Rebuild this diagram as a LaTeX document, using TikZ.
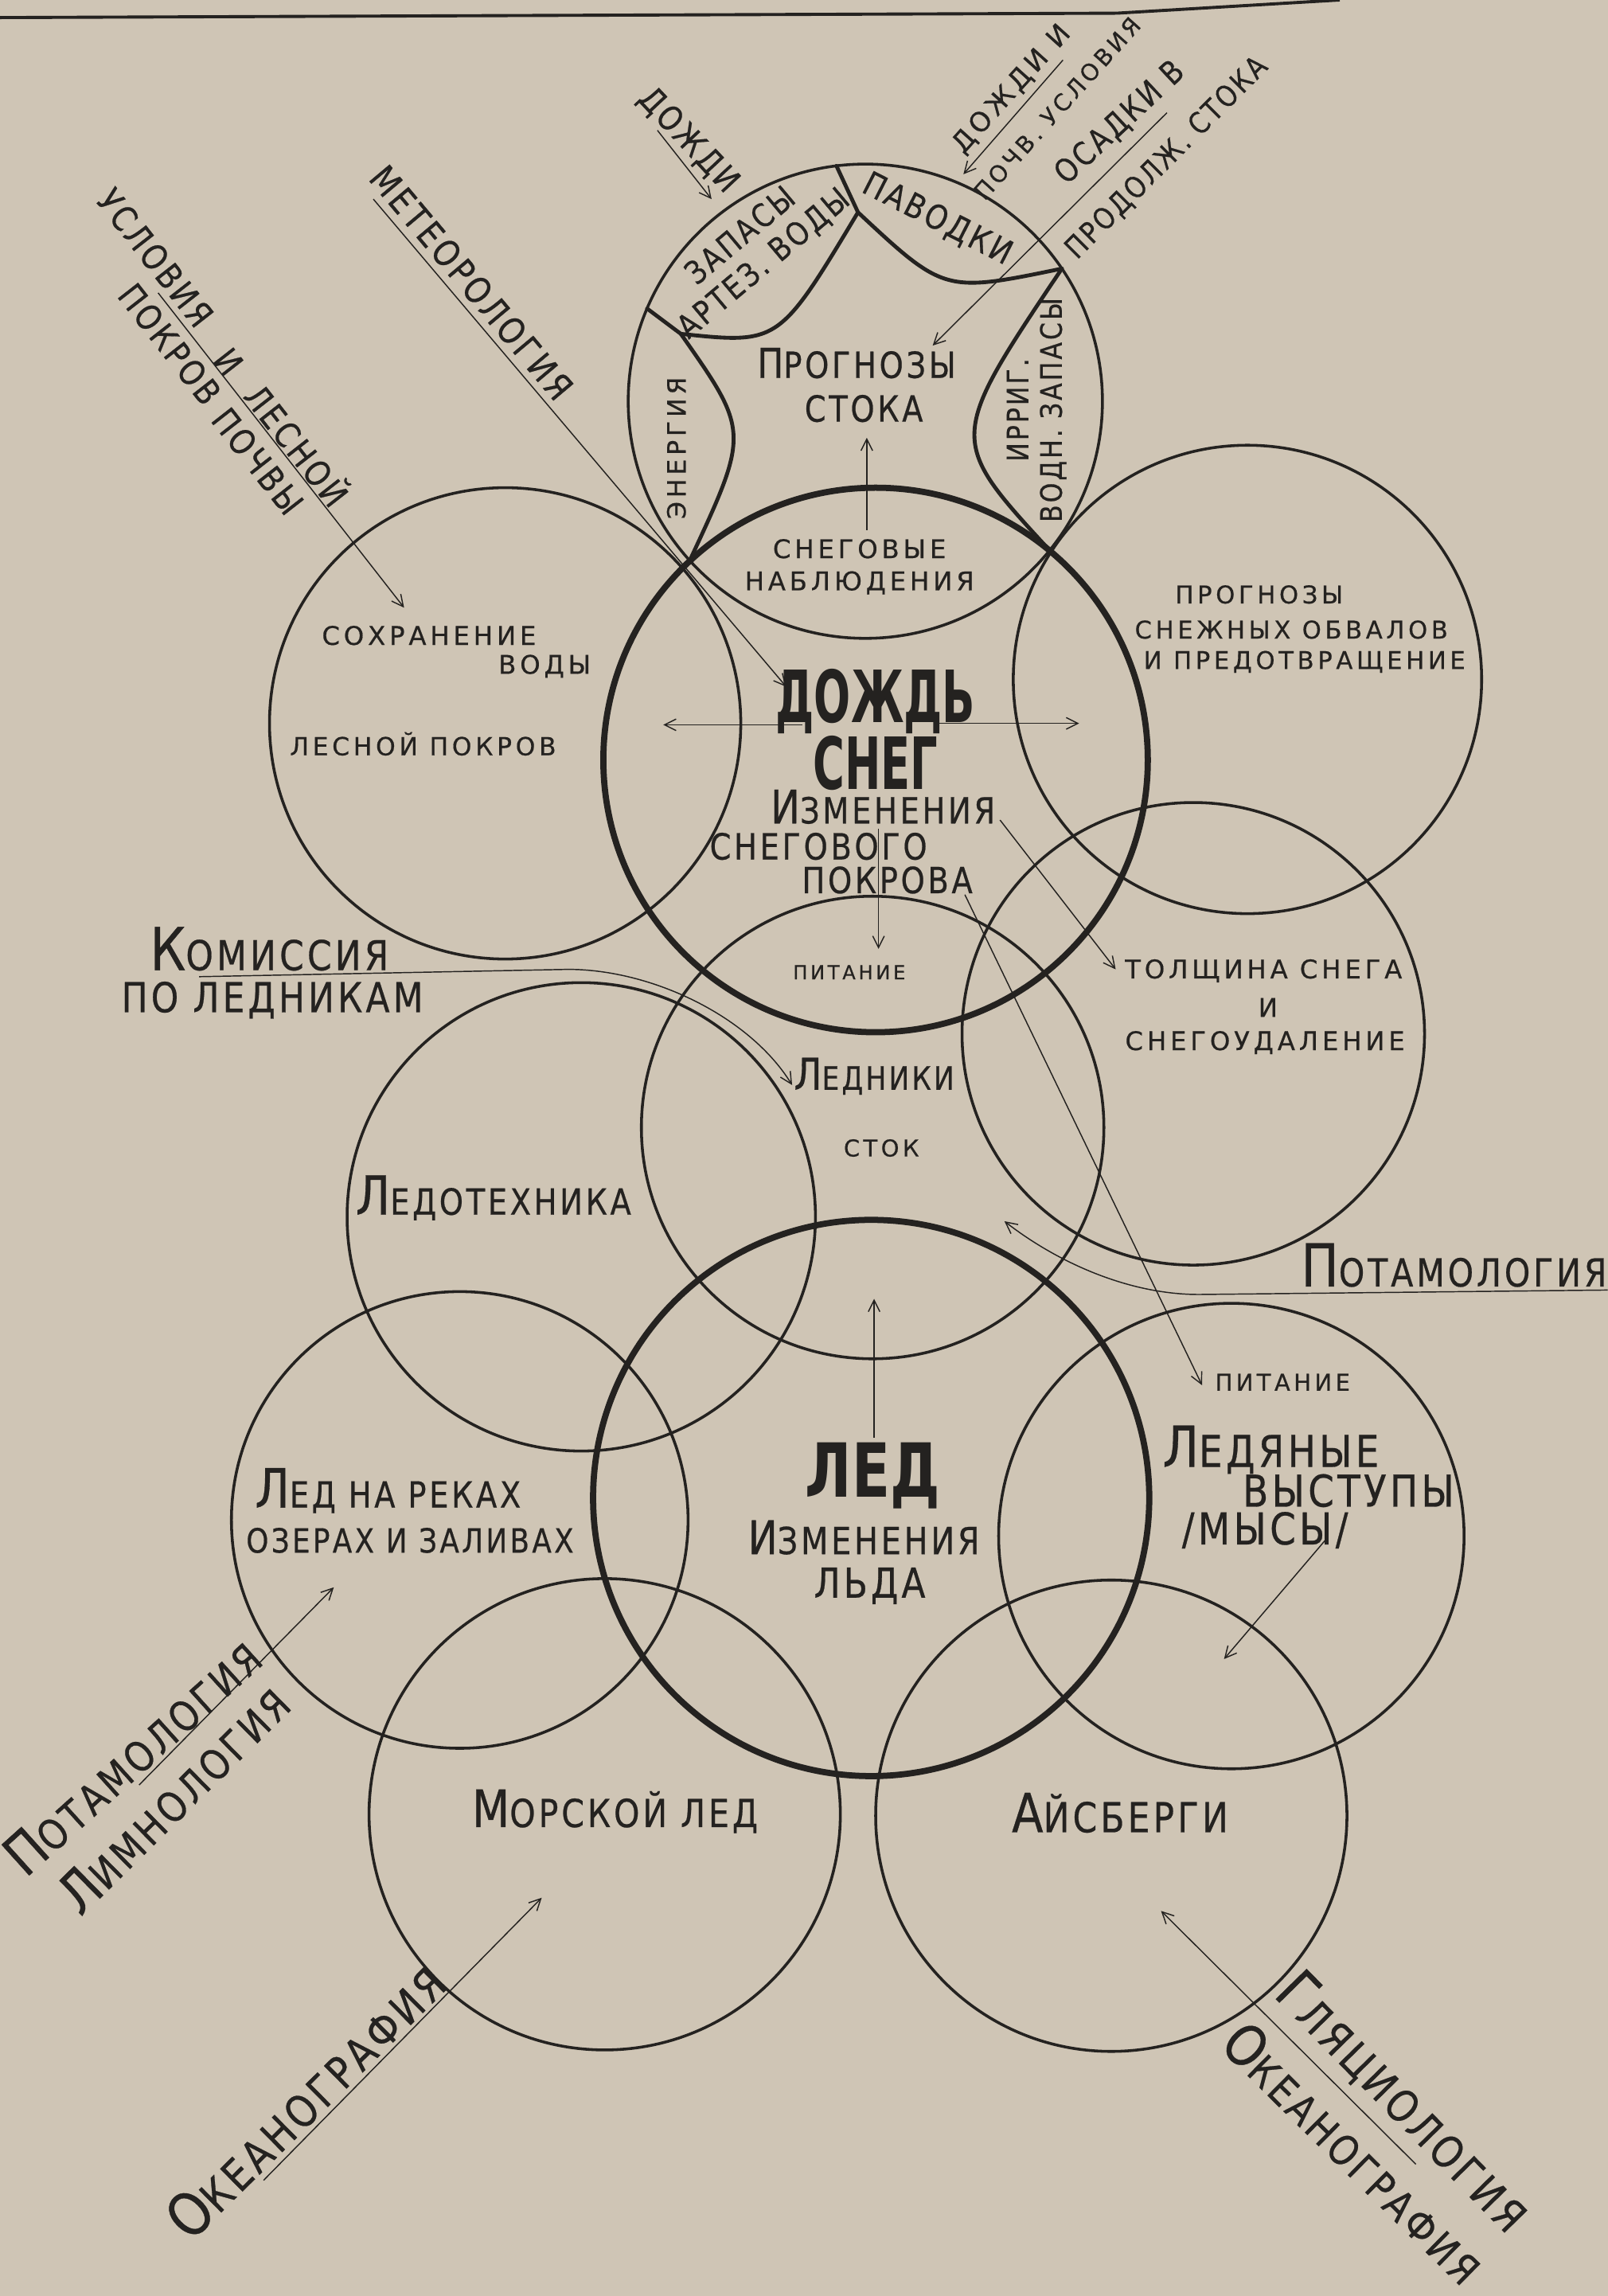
\documentclass[tikz,border=0pt]{standalone}
\usepackage{fontspec}
\setmainfont{DejaVu Sans}
\newfontfamily\lbl{DejaVu Sans}[LetterSpace=15,FakeBold=0.5]
\newfontfamily\tall{DejaVu Sans}[FakeStretch=0.85,LetterSpace=8,FakeBold=0.5]
\newfontfamily\hvy{DejaVu Sans}[FakeStretch=0.6]
\newfontfamily\hvyw{DejaVu Sans}[FakeStretch=0.75]
\usetikzlibrary{arrows.meta}
\definecolor{paper}{RGB}{207,197,181}
\definecolor{ink}{RGB}{36,34,32}
\newcommand{\fnt}[3]{#1\fontsize{#2}{#3}\selectfont}
\newcommand{\scx}[4]{{\fontsize{#1}{#1}\selectfont #3}{\fontsize{#2}{#2}\selectfont #4}}
\tikzset{
  ring/.style={circle, draw=ink, line width=1.1pt, inner sep=0pt, outer sep=0pt, minimum size=#1*0.04cm},
  bigring/.style={circle, draw=ink, line width=2.4pt, inner sep=0pt, outer sep=0pt, minimum size=#1*0.04cm},
  lens/.style={draw=ink, line width=1.5pt, line cap=round},
  arr/.style={draw=ink, line width=0.45pt, -{Straight Barb[length=4.5pt,width=4.5pt]}},
  txt/.style={text=ink, inner sep=0pt, align=center}
}
\begin{document}
\begin{tikzpicture}[x=0.02cm,y=-0.02cm]
\fill[paper] (0,0) rectangle (1098,1568);
\useasboundingbox (0,0) rectangle (1098,1568);

% ---------- top border line
\coordinate (tl0) at (0,12); \coordinate (tl1) at (763,9); \coordinate (tl2) at (915,0);
\draw[ink, line width=1.2pt] (tl0) -- (tl1) -- (tl2);

% ---------- circles
\node[ring=162] (ctop) at (591,274) {};
\node[bigring=186] (cdozhd) at (598,519) {};
\node[ring=161] (cleft) at (345,494) {};
\node[ring=160] (cright) at (852,464) {};
\node[ring=158] (cglac) at (596,770) {};
\node[ring=158] (cthick) at (815,706) {};
\node[ring=160] (ctech) at (397,831) {};
\node[bigring=190] (cled) at (595,1023) {};
\node[ring=156] (criver) at (314,1038) {};
\node[ring=159] (cshelf) at (841,1049) {};
\node[ring=161] (csea) at (413,1239) {};
\node[ring=161] (cberg) at (759,1240) {};

% ---------- lenses inside the top circle
\coordinate (p1) at (ctop.97.6);
\coordinate (p2) at (586,145);
\coordinate (p3) at (465,228);
\coordinate (pl) at (ctop.157);
\coordinate (pr) at (ctop.34);
\coordinate (xl) at (471,383);
\coordinate (xr) at (717,376);
\draw[lens] (p1) -- (p2);
\draw[lens] (p2) .. controls (532,235) .. (p3);
\draw[lens] (pl) -- (p3);
\draw[lens] (p3) .. controls (512,295) .. (xl);
\draw[lens] (p2) .. controls (645,200) .. (pr);
\draw[lens] (pr) .. controls (647,300) .. (xr);

% ---------- texts in the top circle
\node[txt, rotate=40, font={\fnt\tall{12.5}{14}}] (tzap) at (514,171) {ЗАПАСЫ\\АРТЕЗ. ВОДЫ};
\node[txt, rotate=-27, font={\fnt\tall{13}{15}}] (tpav) at (640,150) {ПАВОДКИ};
\node[txt, rotate=90, font={\fnt\lbl{9.8}{12}}] (ten) at (462,306) {ЭНЕРГИЯ};
\node[txt, rotate=90, font={\fnt\tall{11.5}{13}}] (tirr) at (708,280) {ИРРИГ.\\ВОДН. ЗАПАСЫ};
\node[txt, font={\tall}] (tprog) at (585,248) {\scx{16}{14}{П}{РОГНОЗЫ}};
\node[txt, font={\fnt\tall{14}{16}}] (tstoka) at (590,279) {СТОКА};
\node[txt, font={\fnt\lbl{10}{12.5}}] (tobs) at (587,387) {СНЕГОВЫЕ\\НАБЛЮДЕНИЯ};
\coordinate (obsA) at (592,362); \coordinate (obsB) at (592,299);
\draw[arr] (obsA) -- (obsB);

% ---------- left circle
\node[txt, font={\fnt\lbl{10}{12}}] (tsohr) at (293,434) {СОХРАНЕНИЕ};
\node[txt, font={\fnt\lbl{10}{12}}] (tvody) at (372,455) {ВОДЫ};
\node[txt, font={\fnt\lbl{9.7}{12}}] (tles) at (289,508) {ЛЕСНОЙ ПОКРОВ};

% ---------- central circle
\node[txt, font={\fnt\hvy{28}{28}\bfseries}] (tdozhd) at (598,479) {ДОЖДЬ};
\node[txt, font={\fnt\hvy{28}{28}\bfseries}] (tsneg) at (598,521) {СНЕГ};
\node[txt, font={\tall}] (tizm) at (603,551) {\scx{18}{14}{И}{ЗМЕНЕНИЯ}};
\node[txt, font={\fnt\tall{14}{16}}] (tsnegov) at (559,578) {СНЕГОВОГО};
\node[txt, font={\fnt\tall{14}{16}}] (tpokr) at (606,601) {ПОКРОВА};
\node[txt, font={\fnt\lbl{7.5}{9}}] (tpit1) at (580,664) {ПИТАНИЕ};
\coordinate (lA) at (548,495); \coordinate (lB) at (453,495);
\coordinate (rA) at (641,494); \coordinate (rB) at (737,494);
\draw[arr] (lA) -- (lB);
\draw[arr] (rA) -- (rB);
\coordinate (fA) at (600,566); \coordinate (fB) at (600,648);
\draw[arr] (fA) -- (fB);

% ---------- right circle
\node[txt, font={\fnt\lbl{9.5}{12}}] (tpr1) at (860,406) {ПРОГНОЗЫ};
\node[txt, font={\fnt\lbl{9.5}{12}}] (tpr2) at (882,430) {СНЕЖНЫХ ОБВАЛОВ};
\node[txt, font={\fnt\lbl{9.5}{12}}] (tpr3) at (891,452) {И ПРЕДОТВРАЩЕНИЕ};

% ---------- snow depth circle
\node[txt, font={\fnt\lbl{10}{12}}] (ttol1) at (863,663) {ТОЛЩИНА СНЕГА};
\node[txt, font={\fnt\lbl{10}{12}}] (ttol2) at (866,688) {И};
\node[txt, font={\fnt\lbl{10}{12}}] (ttol3) at (864,712) {СНЕГОУДАЛЕНИЕ};
\coordinate (tA) at (683,560); \coordinate (tB) at (762,662);
\draw[arr] (tA) -- (tB);

% ---------- glaciers circle
\node[txt, font={\tall}] (tledn) at (597,735) {\scx{17}{12.5}{Л}{ЕДНИКИ}};
\node[txt, font={\fnt\lbl{9}{11}}] (tstok) at (602,784) {СТОК};
\node[txt, font={\tall}] (tkom) at (184,648) {\scx{23}{16}{К}{ОМИССИЯ}};
\node[txt, font={\fnt\tall{16}{18}}] (tpoled) at (186,683) {ПО ЛЕДНИКАМ};
\coordinate (kA) at (136,667); \coordinate (kB) at (388,662); \coordinate (kC) at (541,741);
\draw[arr] (kA) -- (kB) .. controls (445,662) and (512,694) .. (kC);

% ---------- ice technics
\node[txt, font={\tall}] (ttech) at (337,818) {\scx{21}{14}{Л}{ЕДОТЕХНИКА}};

% ---------- potamology (right)
\node[txt, font={\tall}] (tpotr) at (993,864) {\scx{23}{15}{П}{ОТАМОЛОГИЯ}};
\coordinate (prA) at (1098,881); \coordinate (prB) at (822,884); \coordinate (prC) at (686,834);
\draw[arr] (prA) -- (prB) .. controls (772,885) and (722,862) .. (prC);
\node[txt, font={\fnt\lbl{9}{11}}] (tpit2) at (876,944) {ПИТАНИЕ};
\coordinate (gA) at (659,611); \coordinate (gB) at (821,946);
\draw[arr] (gA) -- (gB);

% ---------- ice circle
\node[txt, font={\fnt\hvyw{29}{29}\bfseries}] (tled) at (596,1008) {ЛЕД};
\node[txt, font={\tall}] (tizm2) at (590,1050) {\scx{18}{14.5}{И}{ЗМЕНЕНИЯ}};
\node[txt, font={\fnt\tall{16}{18}}] (tlda) at (594,1083) {ЛЬДА};
\coordinate (iA) at (597,982); \coordinate (iB) at (597,887);
\draw[arr] (iA) -- (iB);

% ---------- river ice
\node[txt, font={\tall}] (triv1) at (265,1018) {\scx{21}{14}{Л}{ЕД НА РЕКАХ}};
\node[txt, font={\fnt\tall{13}{15}}] (triv2) at (280,1052) {ОЗЕРАХ И ЗАЛИВАХ};

% ---------- ice shelves
\node[txt, font={\tall}] (tsh1) at (868,990) {\scx{22}{17}{Л}{ЕДЯНЫЕ}};
\node[txt, font={\fnt\tall{17}{19}}] (tsh2) at (921,1018) {ВЫСТУПЫ};
\node[txt, font={\fnt\tall{17}{19}}] (tsh3) at (864,1045) {/МЫСЫ/};
\coordinate (mA) at (905,1052); \coordinate (mB) at (836,1133);
\draw[arr] (mA) -- (mB);

% ---------- sea ice, icebergs
\node[txt, font={\tall}] (tsea) at (420,1237) {\scx{20}{15}{М}{ОРСКОЙ ЛЕД}};
\node[txt, font={\tall}] (tberg) at (765,1238) {\scx{21}{16}{А}{ЙСБЕРГИ}};

% ---------- top-left labels
\node[txt, rotate=-50, font={\fnt\tall{14}{16}}] (tmet) at (322,193) {МЕТЕОРОЛОГИЯ};
\coordinate (meA) at (255,136); \coordinate (meB) at (537,469);
\draw[arr] (meA) -- (meB);

\node[txt, rotate=-52, font={\fnt\tall{13.5}{15}}] (tusl) at (106,176) {УСЛОВИЯ};
\node[txt, rotate=-52, font={\fnt\tall{13.5}{15}}] (tiand) at (156,247) {И};
\node[txt, rotate=-52, font={\fnt\tall{13.5}{15}}] (tlesn) at (204,303) {ЛЕСНОЙ};
\node[txt, rotate=-52, font={\fnt\tall{13.5}{15}}] (tpokrov) at (116,235) {ПОКРОВ};
\node[txt, rotate=-52, font={\fnt\tall{13.5}{15}}] (tpochvy) at (176,315) {ПОЧВЫ};
\coordinate (uA) at (108,200); \coordinate (uB) at (276,415);
\draw[arr] (uA) -- (uB);

% ---------- top labels
\node[txt, rotate=-47, font={\fnt\tall{13}{15}}] (train) at (470,96) {ДОЖДИ};
\coordinate (raA) at (449,89); \coordinate (raB) at (486,136);
\draw[arr] (raA) -- (raB);

\node[txt, rotate=48, font={\fnt\lbl{10.5}{12}}] (trs1) at (691,61) {ДОЖДИ И};
\node[txt, rotate=48, font={\fnt\lbl{9}{11}}] (trs2) at (722,74) {ПОЧВ. УСЛОВИЯ};
\coordinate (rsA) at (726,41); \coordinate (rsB) at (658,119);
\draw[arr] (rsA) -- (rsB);

\node[txt, rotate=43, font={\fnt\tall{12.5}{14}}] (tos1) at (765,84) {ОСАДКИ В};
\node[txt, rotate=45, font={\fnt\tall{11.5}{13}}] (tos2) at (797,108) {ПРОДОЛЖ. СТОКА};
\coordinate (osA) at (797,77); \coordinate (osB) at (637,236);
\draw[arr] (osA) -- (osB);

% ---------- bottom-left labels
\node[txt, rotate=42, font={\tall}] (tpotl) at (90,1199) {\scx{22}{16}{П}{ОТАМОЛОГИЯ}};
\node[txt, rotate=44.6, font={\tall}] (tlimn) at (118,1228) {\scx{22}{16}{Л}{ИМНОЛОГИЯ}};
\coordinate (liA) at (95,1219); \coordinate (liB) at (228,1084);
\draw[arr] (liA) -- (liB);

\node[txt, rotate=44.7, font={\tall}] (tocl) at (208,1434) {\scx{23}{17}{О}{КЕАНОГРАФИЯ}};
\coordinate (ocA) at (180,1489); \coordinate (ocB) at (370,1296);
\draw[arr] (ocA) -- (ocB);

% ---------- bottom-right labels
\node[txt, rotate=-45.6, font={\tall}] (tgl) at (958,1436) {\scx{23}{17}{Г}{ЛЯЦИОЛОГИЯ}};
\node[txt, rotate=-44.7, font={\tall}] (tocr) at (925,1470) {\scx{22}{16}{О}{КЕАНОГРАФИЯ}};
\coordinate (glA) at (967,1478); \coordinate (glB) at (793,1305);
\draw[arr] (glA) -- (glB);
\end{tikzpicture}
\end{document}
